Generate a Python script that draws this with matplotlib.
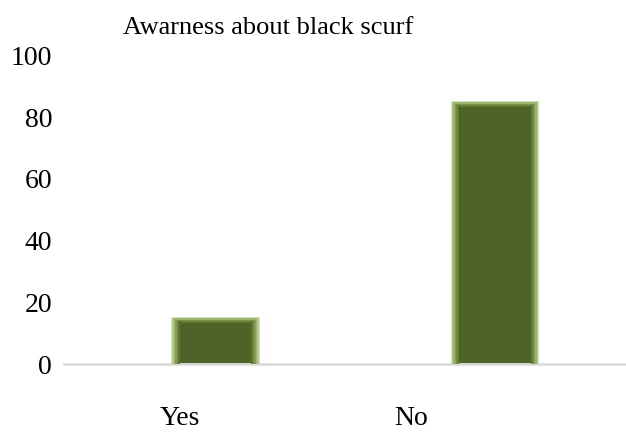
import matplotlib
matplotlib.use("Agg")
import matplotlib.pyplot as plt

# data
categories = ["Yes", "No"]
values = [15, 85]
y_ticks = [0, 20, 40, 60, 80, 100]
title = "Awarness about black scurf"

plt.rcParams['font.family'] = ['Liberation Serif', 'DejaVu Serif']

fig = plt.figure(figsize=(6.26, 4.32), dpi=100)
ax = fig.add_axes([64 / 626, 68 / 432, 562 / 626, 308.5 / 432])

pos = list(range(len(categories)))
bw = 0.31

# main bars
ax.bar(pos, values, width=bw, color='#4f6228', edgecolor='#d2dfb6',
       linewidth=1.2, zorder=2)

# bevel highlights: gradient strips on the sides and along the top
shades = ['#b3c98a', '#9ab36b', '#839d52', '#6f8940', '#5e7833']
step = 0.0055
for i, c in enumerate(shades):
    off = bw / 2 - step * (i + 0.5)
    ax.bar([p - off for p in pos], values, width=step, color=c,
           linewidth=0, zorder=3)
    ax.bar([p + off for p in pos], values, width=step, color=c,
           linewidth=0, zorder=3)
top_shades = ['#9ab36b', '#7a9448', '#637d38']
for i, c in enumerate(top_shades):
    ax.bar(pos, [0.6] * len(values), width=bw - 0.02 * (i + 1),
           bottom=[v - 0.6 * (i + 1) for v in values], color=c,
           linewidth=0, zorder=3)

ax.set_xlim(-0.542, 1.469)
ax.set_ylim(0, 100)
ax.set_yticks(y_ticks)
ax.set_yticklabels([str(t) for t in y_ticks], fontsize=20)
ax.tick_params(axis='y', length=0, pad=8.5)

# category labels sit left of the bars in the reference
ax.set_xticks([-0.127, 0.701])
ax.set_xticklabels(categories, fontsize=20)
ax.tick_params(axis='x', length=0, pad=30)

for s in ['top', 'right', 'left']:
    ax.spines[s].set_visible(False)
ax.spines['bottom'].set_color('#d9d9d9')
ax.spines['bottom'].set_linewidth(1.8)

fig.text(268 / 626, 1 - 28 / 432, title, ha='center', va='center',
         fontsize=19)

fig.savefig("out.png", dpi=100)
